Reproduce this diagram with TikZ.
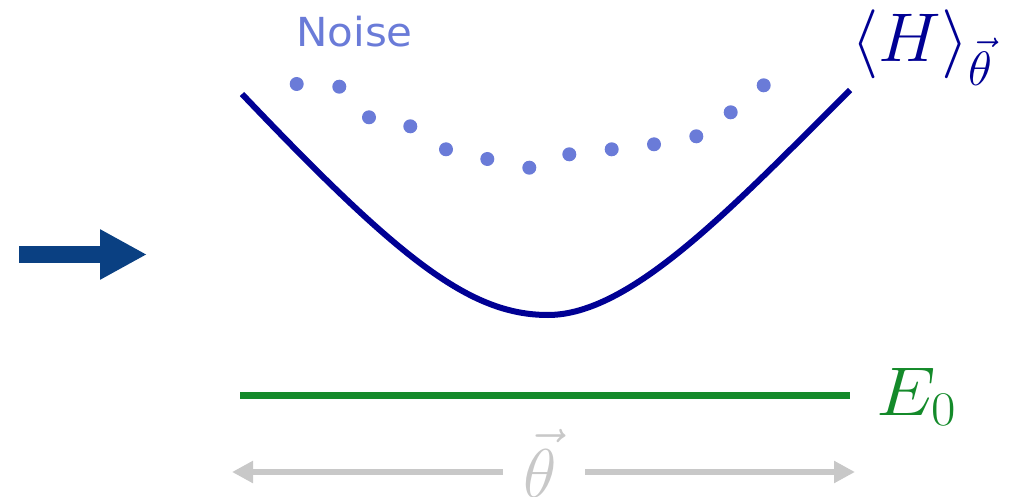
\RequirePackage{fix-cm}
\documentclass[tikz,border=0pt]{standalone}
\usepackage{fontspec}
\newfontfamily\noisefont{DejaVu Sans}
\usetikzlibrary{arrows.meta}
\definecolor{curveblue}{RGB}{0,0,148}
\definecolor{dotblue}{RGB}{106,123,216}
\definecolor{arrowblue}{RGB}{10,64,130}
\definecolor{egreen}{RGB}{20,138,42}
\definecolor{axgray}{RGB}{200,200,200}
\tikzset{
  bigmath/.style={inner sep=0pt,font=\fontsize{69}{80}\selectfont},
  noisedot/.style={fill=dotblue,draw=none},
  axisarrow/.style={draw=axgray,line width=6.7pt,-{Triangle[length=21pt,width=21pt]}},
}
\begin{document}
\begin{tikzpicture}[x=1pt,y=-1pt]
\useasboundingbox (0,0) rectangle (1012,497);
% big blue arrow
\coordinate (ba0) at (19,254.5);
\coordinate (ba1) at (147,254.5);
\draw[arrowblue,line width=17pt,-{Triangle[length=47pt,width=47pt]}] (ba0) -- (ba1);
% expectation curve
\draw[curveblue,line width=6pt] (242,94) .. controls (400,260) and (470,315) .. (548,315)
  .. controls (630,315) and (730,210) .. (850,90);
% noise dots
\foreach \x/\y [count=\i] in {296.7/84,339.3/86.7,369/117.3,410.3/126.3,446/149.3,487.3/159,529.3/167.7,569.3/154.3,611.7/149.3,654/144.3,696.3/136.3,730.7/112.3,763.7/85.3}
  \fill[noisedot] (\x,\y) circle (7pt);
\node[anchor=base west,inner sep=0pt,xscale=1.05,text=dotblue,font=\noisefont\fontsize{40}{48}\selectfont] (noise) at (296,47) {Noise};
% labels
\node[bigmath,anchor=base west,xscale=1.02,text=curveblue] (H) at (851,62) {$\langle H\rangle_{\vec\theta}$};
\draw[egreen,line width=7pt] (240,395) -- (850,395);
\node[bigmath,anchor=base west,xscale=1.1,text=egreen] (E) at (876,415) {$E_0$};
% theta axis
\node[bigmath,anchor=base,text=axgray] (th) at (540,497) {$\vec\theta$};
\coordinate (l0) at (503,472);
\coordinate (l1) at (232,472);
\coordinate (r0) at (585,472);
\coordinate (r1) at (855,472);
\draw[axisarrow] (l0) -- (l1);
\draw[axisarrow] (r0) -- (r1);
\end{tikzpicture}
\end{document}
